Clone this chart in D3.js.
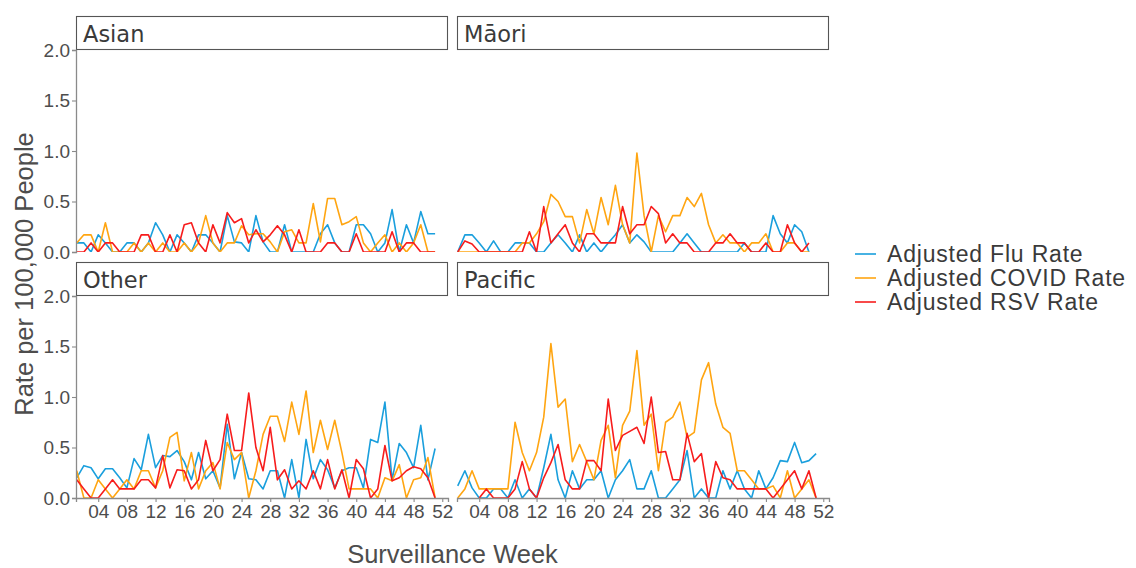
<!DOCTYPE html>
<html>
<head>
<meta charset="utf-8">
<script src="https://cdn.jsdelivr.net/npm/d3@7"></script>
<style>
  body { margin: 0; background: #fff; }
  svg { display: block; }
</style>
</head>
<body>
<div id="visualization"></div>
<script>
// --- Data ---
const weeks = d3.range(1, 52); // surveillance weeks 1..51
const regions = ["Asian", "Māori", "Other", "Pacific"];
const seriesNames = ["Adjusted Flu Rate", "Adjusted COVID Rate", "Adjusted RSV Rate"];
const seriesColors = ["#1a9fdd", "#ffa511", "#f71c1c"];
const yTicks = [0, 0.5, 1.0, 1.5, 2.0];
const xTicks = d3.range(4, 53, 4);

const asianFlu = [0.09,0.09,0,0.17,0.09,0,0,0.09,0.09,0,0.09,0.29,0.17,0,0.17,0.09,0,0.17,0.17,0.09,0,0.36,0.1,0.09,0,0.36,0.1,0,0,0.27,0,0,0,0,0.18,0.27,0.09,0,0,0.27,0.27,0.18,0,0.09,0.42,0,0.27,0.09,0.4,0.18,0.18];
const asianCovid = [0.09,0.17,0.17,0,0.29,0,0,0,0.09,0,0.09,0,0.09,0,0,0.09,0,0.09,0.36,0.09,0,0.09,0.09,0.26,0.17,0.18,0.18,0.1,0,0.2,0.22,0.09,0.09,0.48,0.1,0.53,0.53,0.27,0.3,0.35,0.09,0,0.09,0.17,0,0.09,0,0.09,0.27,0,0];
const asianRsv = [0,0,0.09,0,0.09,0.09,0,0,0,0.17,0.17,0,0,0.17,0,0.27,0.29,0.09,0,0.27,0.09,0.39,0.29,0.33,0.09,0.22,0.1,0.17,0.26,0.17,0,0.22,0,0,0,0.09,0.09,0,0,0.18,0,0,0,0,0.2,0,0.09,0.09,0,0,0];

const maoriFlu = [0,0.17,0.17,0.09,0,0.11,0,0,0.09,0.09,0.09,0,0,0.09,0.17,0.09,0,0.17,0,0.09,0,0.09,0.17,0.27,0.09,0.17,0.1,0,0,0,0,0.09,0.18,0.09,0,0,0,0,0,0,0.09,0,0,0,0.36,0.18,0.09,0.27,0.2,0,null];
const maoriCovid = [0,0,0,0,0,0,0,0,0,0.09,0.09,0.18,0.3,0.57,0.5,0.35,0.35,0.09,0.42,0.18,0.54,0.27,0.66,0.27,0.09,0.98,0.36,0,0.36,0.2,0.36,0.36,0.54,0.45,0.58,0.27,0.09,0.17,0.09,0.09,0,0.09,0.09,0.18,0,0,0.09,0.09,0,0,null];
const maoriRsv = [0,0.11,0.08,0,0,0,0,0,0,0,0.2,0,0.45,0.09,0.18,0.27,0.09,0,0.18,0.18,0.09,0.09,0.09,0.45,0.18,0.27,0.27,0.45,0.38,0.09,0.18,0.09,0.09,0,0,0,0.09,0.09,0.18,0.09,0.09,0,0,0.09,0,0,0.27,0.09,0,0.09,null];

const otherFlu = [0.2,0.32,0.3,0.19,0.29,0.29,0.2,0.1,0.39,0.28,0.63,0.3,0.42,0.41,0.47,0.36,0.18,0.45,0.19,0.27,0.1,0.73,0.19,0.45,0.19,0.18,0.09,0.27,0.27,0,0.38,0,0.58,0.19,0.38,0.28,0.1,0.27,0.3,0.3,0.1,0.58,0.55,0.95,0.18,0.54,0.45,0.3,0.72,0.18,0.49];
const otherCovid = [0.27,0,0,0.18,0.09,0,0.09,0.18,0.09,0.27,0.27,0.1,0.27,0.6,0.65,0.17,0.45,0.09,0.27,0.35,0.09,0.55,0.38,0.45,0,0.27,0.63,0.81,0.81,0.56,0.95,0.63,1.06,0.45,0.77,0.48,0.77,0.45,0.09,0.09,0.09,0.09,0,0.2,0.17,0.33,0,0.18,0.2,0.4,0];
const otherRsv = [0.18,0.09,0,0,0.09,0.18,0.09,0.09,0.09,0.18,0.18,0.1,0.42,0.1,0.28,0.27,0.09,0.18,0.57,0.27,0.38,0.83,0.47,0.47,1.04,0.5,0.27,0.7,0.18,0.28,0.09,0.17,0.09,0.27,0.09,0.38,0.09,0.28,0,0.38,0.29,0,0.09,0.52,0.17,0.2,0.27,0.31,0.29,0.2,0];

const pacificFlu = [0.12,0.27,0.1,0,0,0.09,0.09,0,0.18,0,0.09,0,0.3,0.63,0.18,0,0.27,0.09,0.18,0.18,0.27,0,0.18,0.27,0.38,0.09,0.09,0.27,0,0,0.09,0.18,0.47,0,0.09,0,0,0.27,0.09,0.27,0.09,0,0.27,0.09,0.2,0.37,0.36,0.55,0.35,0.37,0.44];
const pacificCovid = [0,0.09,0.27,0.09,0.09,0.09,0.09,0.09,0.75,0.45,0.27,0.45,0.8,1.53,0.9,0.98,0.36,0.53,0.36,0.18,0.57,0.72,0.2,0.72,0.86,1.46,0.72,0.83,0.27,0.75,0.8,0.95,0.6,0.65,1.17,1.34,0.93,0.7,0.64,0.27,0.27,0.18,0.09,0.09,0.12,0,0.27,0,0.09,0.18,0];
const pacificRsv = [null,null,null,0,0.09,0,0,0,0.09,0.36,0.09,0,0.2,0.35,0.53,0.18,0.09,0.09,0.37,0.37,0.27,0.98,0.47,0.62,0.66,0.7,0.54,1.0,0.45,0.46,0.18,0.18,0.64,0.36,0.44,0,0.36,0.2,0.18,0.09,0.09,0.09,0.09,0.09,0,0.09,0.18,0.27,0.09,0.27,0];

const regionSeries = {
  "Asian": [asianFlu, asianCovid, asianRsv],
  "Māori": [maoriFlu, maoriCovid, maoriRsv],
  "Other": [otherFlu, otherCovid, otherRsv],
  "Pacific": [pacificFlu, pacificCovid, pacificRsv]
};

// --- Layout ---
const SVG_WIDTH = 1136;
const SVG_HEIGHT = 568;
const PANEL_W = 372;
const PANEL_H = 202;
const STRIP_H = 34;
const COL_X = [76, 457];
const ROW_Y = [50, 296]; // top of plotting area (y = 2.0)
const AXIS_COLOR = "#8a8a8a";
const TEXT_COLOR = "#4d4d4d";
const LABEL_FONT = "'Liberation Sans', Arial, sans-serif";

const svg = d3.select("#visualization")
  .append("svg")
  .attr("width", SVG_WIDTH)
  .attr("height", SVG_HEIGHT);

const xScale = d3.scaleLinear().domain([0.9, 52.8]).range([0, PANEL_W]);
const yScale = d3.scaleLinear().domain([0, 2]).range([PANEL_H, 0]);

const line = d3.line()
  .defined(d => d.v !== null)
  .x(d => xScale(d.w))
  .y(d => yScale(d.v));

regions.forEach((region, i) => {
  const col = i % 2;
  const row = Math.floor(i / 2);
  const g = svg.append("g")
    .attr("transform", `translate(${COL_X[col]},${ROW_Y[row]})`);

  // strip
  g.append("rect")
    .attr("x", 0.5)
    .attr("y", -STRIP_H + 0.5)
    .attr("width", PANEL_W - 1)
    .attr("height", STRIP_H - 1)
    .attr("fill", "#fff")
    .attr("stroke", "#555")
    .attr("stroke-width", 1.1);
  g.append("text")
    .attr("x", 7)
    .attr("y", -8)
    .attr("font-family", "'DejaVu Sans', sans-serif")
    .attr("font-size", 22.5)
    .attr("fill", "#3a3a3a")
    .text(region);

  // clip
  const clipId = `clip-${i}`;
  g.append("clipPath").attr("id", clipId)
    .append("rect")
    .attr("x", 0).attr("y", 0)
    .attr("width", PANEL_W).attr("height", PANEL_H);

  const lines = g.append("g").attr("clip-path", `url(#${clipId})`);
  regionSeries[region].forEach((vals, s) => {
    const pts = weeks.map((w, k) => ({ w, v: vals[k] === undefined ? null : vals[k] }));
    lines.append("path")
      .datum(pts)
      .attr("fill", "none")
      .attr("stroke", seriesColors[s])
      .attr("stroke-width", 1.6)
      .attr("stroke-linejoin", "round")
      .attr("d", line);
  });

  // y axis on left column
  if (col === 0) {
    const yAxis = g.append("g")
      .call(d3.axisLeft(yScale).tickValues(yTicks).tickFormat(d3.format(".1f")).tickSize(4).tickPadding(2));
    yAxis.select(".domain").attr("stroke", AXIS_COLOR).attr("stroke-width", 1.3);
    yAxis.selectAll(".tick line").attr("stroke", AXIS_COLOR).attr("stroke-width", 1.1);
    yAxis.selectAll(".tick text")
      .attr("font-family", LABEL_FONT)
      .attr("font-size", 19)
      .attr("fill", TEXT_COLOR);
  }
  // x axis on bottom row
  if (row === 1) {
    const xAxis = g.append("g")
      .attr("transform", `translate(0,${PANEL_H})`)
      .call(d3.axisBottom(xScale).tickValues(xTicks).tickFormat(d3.format("02d")).tickSize(4).tickPadding(3));
    xAxis.select(".domain").attr("stroke", AXIS_COLOR).attr("stroke-width", 1.3);
    xAxis.selectAll(".tick line").attr("stroke", AXIS_COLOR).attr("stroke-width", 1.1);
    xAxis.selectAll(".tick text")
      .attr("font-family", LABEL_FONT)
      .attr("font-size", 19)
      .attr("fill", TEXT_COLOR);
  }
});

// axis titles
svg.append("text")
  .attr("x", (COL_X[0] + COL_X[1] + PANEL_W) / 2)
  .attr("y", 563)
  .attr("text-anchor", "middle")
  .attr("font-family", LABEL_FONT)
  .attr("font-size", 25.5)
  .attr("fill", TEXT_COLOR)
  .text("Surveillance Week");

svg.append("text")
  .attr("transform", `translate(33,${(ROW_Y[0] + ROW_Y[1] + PANEL_H) / 2}) rotate(-90)`)
  .attr("text-anchor", "middle")
  .attr("font-family", LABEL_FONT)
  .attr("font-size", 25.5)
  .attr("fill", TEXT_COLOR)
  .text("Rate per 100,000 People");

// legend
const legend = svg.append("g").attr("transform", "translate(855,254)");
seriesNames.forEach((name, s) => {
  const item = legend.append("g").attr("transform", `translate(0,${s * 24})`);
  item.append("line")
    .attr("x1", 0).attr("x2", 21)
    .attr("y1", 0).attr("y2", 0)
    .attr("stroke", seriesColors[s])
    .attr("stroke-width", 1.6);
  item.append("text")
    .attr("x", 32)
    .attr("y", 0)
    .attr("dy", "0.36em")
    .attr("font-family", LABEL_FONT)
    .attr("font-size", 23)
    .attr("letter-spacing", 0.8)
    .attr("fill", "#3a3a3a")
    .text(name);
});
</script>
</body>
</html>
